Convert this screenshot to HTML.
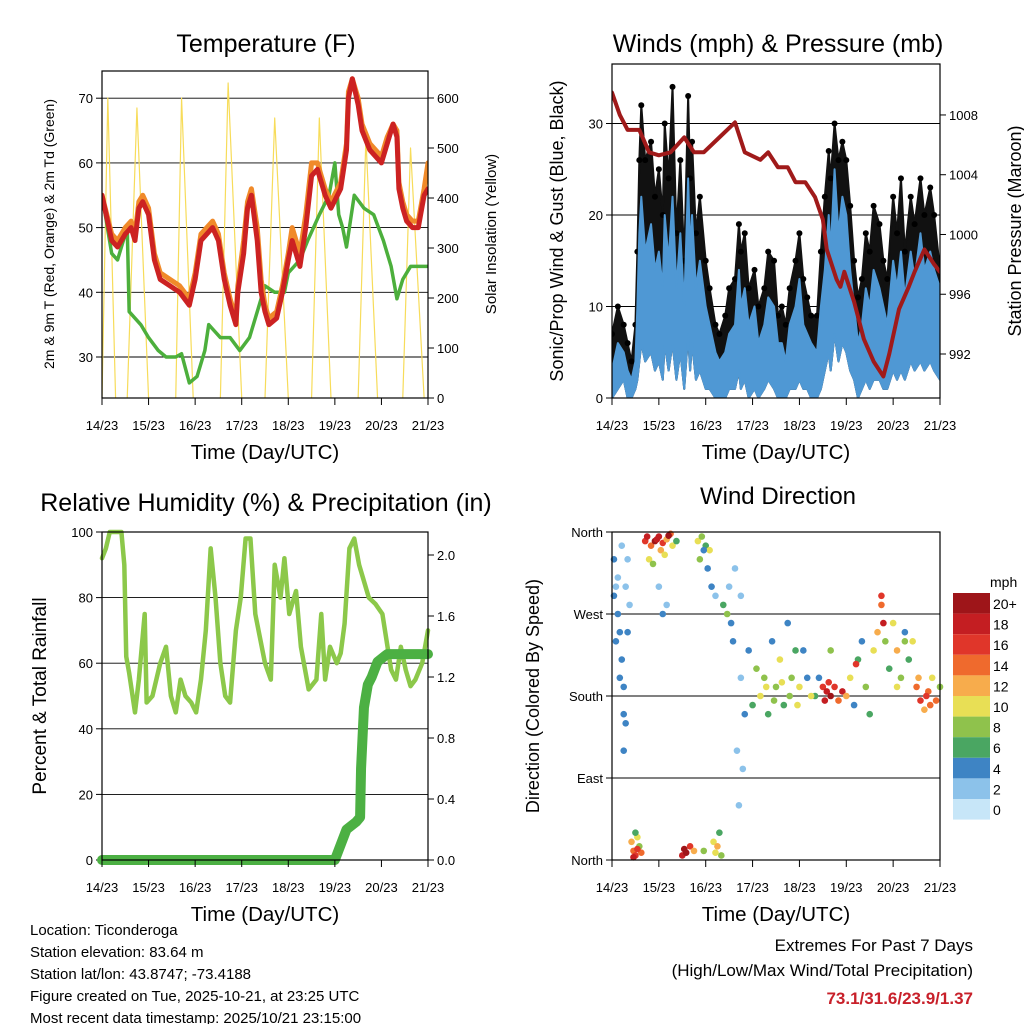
<!DOCTYPE html>
<html><head><meta charset="utf-8"><style>
body{margin:0;background:#fff;}
svg{display:block;font-family:"Liberation Sans",sans-serif;}
</style></head><body>
<svg id="c" width="1024" height="1024" viewBox="0 0 1024 1024"></svg>
<script>
// ---------- DATA (hours since 14/23, values) ----------
const dayLabels=["14/23","15/23","16/23","17/23","18/23","19/23","20/23","21/23"];
const tHours=[0,5,8,12,15,17,19,21,24,27,30,35,40,45,48,51,57,60,63,66,69,70,73,75,77,80,82,84,86,90,93,96,98,102,105,108,111,113,115,118,123,124,126,127,129,132,134,138,144,147,150,152,153,155,157,160,163,166,168];
const tempRed=[55,48,47,49,50,48,53,54,52,45,42,41,40,38,42,48,50,48,42,38,35,40,46,53,55,48,40,37,35,36,40,45,48,44,50,58,59,57,55,53,56,58,62,70,73,69,65,62,60,63,66,64,56,53,51,50,50,55,56];
const tempOrange=[55,49,48,50,51,49,54,55,53,46,43,42,41,39,43,49,51,49,43,39,36,41,48,54,56,50,42,38,36,37,41,46,50,46,52,60,60,58,56,54,57,59,63,71,73,70,66,63,61,64,66,65,57,54,52,51,51,56,60];
const dHours=[0,5,8,12,13,14,20,24,29,33,38,41,45,49,51,53,55,58,61,66,71,76,80,82,84,89,94,96,102,106,112,117,120,122,124,126,130,135,140,145,147,149,152,155,159,161,163,168];
const dewGreen=[55,46,45,49,50,37,35,33,31,30,30,30.5,26,27,29,31,35,34,33,33,31,33,37,39,41,40,40,43,45,48,52,55,60,52,50,47,55,53,52,48,46,44,39,42,44,44,44,44];
const solarDayStart=[0,13,38,61,84,108,132,155];
const solarPeak=[600,580,600,630,560,560,520,500];
const solarPeakHour=[3,18,41,65,89,112,136,159];
const solarDayEnd=[7,24,47,72,96,118,142,166];

const wHours=[0,3,6,8,10,12,13,14,15,17,20,22,24,26,27,29,31,33,35,37,39,40,41,43,45,48,50,53,55,58,60,63,65,66,68,70,73,75,78,80,83,85,87,89,91,94,96,98,100,102,105,107,109,111,112,114,116,118,120,122,124,126,128,130,132,134,137,139,141,144,146,148,150,153,155,158,160,163,165,168];
const windMax=[3,6,5,3,2,4,10,18,22,16,19,14,16,12,20,15,22,12,18,10,24,16,20,12,15,10,8,5,4,5,7,8,14,10,12,8,10,6,8,11,10,6,6,4,8,10,13,8,7,6,5,10,14,20,16,25,18,22,20,14,10,6,8,12,10,14,12,10,8,15,12,16,11,16,13,18,14,16,14,12];
const windMin=[0,1,2,0,0,1,2,4,6,4,5,3,4,2,6,3,6,2,5,1,7,3,6,2,3,1,1,0,0,0,1,1,3,1,2,0,1,0,1,2,1,0,0,0,1,1,2,1,1,0,0,1,3,5,3,7,4,6,5,3,2,0,1,2,1,2,2,1,1,3,2,3,2,4,3,4,3,4,3,2];
const gust=[7,10,8,6,4,8,16,26,32,26,28,22,25,20,30,24,34,18,26,15,33,24,28,18,22,15,12,8,7,9,12,13,19,16,18,12,14,10,12,16,15,9,10,8,12,15,18,13,11,9,9,16,22,27,24,30,26,28,26,21,15,11,13,18,16,21,19,15,13,22,18,24,16,22,19,24,20,23,20,14];
const pHours=[0,4,8,14,19,24,30,37,42,47,55,63,68,76,80,85,90,94,99,104,108,110,115,117,119,124,129,134,139,142,147,152,155,160,165,168];
const pressure=[1009.5,1008,1007,1007,1005.5,1005.3,1005.5,1006.5,1005.5,1005.5,1006.5,1007.5,1005.5,1005,1005.5,1004.5,1004.5,1003.5,1003.5,1002.5,1001,999,997,996.5,997.5,995.5,993,991.5,990.5,992,995,996.5,997.5,999,998,997.5];

const rhHours=[0,2,4,10,11.5,12.5,14,17,19,22,23,26,30,33,35.5,38,40.5,43,46,48.5,51,53.5,56,58.5,61,63.5,66,69,71.5,74,76.5,79,84,87,89,92,94,96.5,100,102.5,106.5,110.5,113,115,117.5,121,123,125,127.5,130,132.5,135,137.5,141,144.5,149,151.5,154,156.5,159,161.5,165,168];
const rh=[92,95,100,100,90,62,57,45,55,75,48,50,60,65,50,45,55,50,48,45,55,70,95,80,60,50,48,70,80,98,98,75,60,55,90,80,92,75,82,65,52,55,75,55,65,60,63,72,95,98,90,85,80,78,75,58,55,65,58,53,55,60,70];
const prHours=[0,60,120,123,126,131,133,133.5,135,137,139,142,147,154,168];
const precip=[0,0,0,0.1,0.2,0.25,0.28,0.6,1.0,1.15,1.2,1.3,1.35,1.35,1.35];

// wind direction scatter: [hour, direction deg, speed mph]
const dirPts=[[1,330,3],[2,300,2],[3,270,4],[4,250,3],[5,220,4],[6,190,4],[7,150,3],[6,120,4],[3,310,2],[5,345,2],[7,300,1],[8,330,2],[9,280,2],[8,250,3],[1,290,3],[2,240,4],[4,200,3],[6,160,4],[10,20,12],[11,10,14],[12,5,16],[13,25,10],[14,15,8],[12,30,6],[15,8,13],[11,3,18],[13,12,16],[17,350,16],[18,355,18],[20,345,14],[22,350,20],[24,355,18],[26,348,16],[28,352,12],[30,358,14],[31,345,10],[19,330,10],[21,325,8],[25,340,12],[27,335,9],[23,352,17],[29,356,19],[24,300,2],[26,270,3],[28,280,1],[33,350,6],[36,5,18],[38,8,20],[40,15,16],[42,10,12],[37,12,19],[44,350,10],[46,355,8],[48,345,6],[50,340,10],[49,320,4],[51,300,3],[53,290,2],[45,330,8],[47,340,4],[47,10,8],[52,20,10],[54,15,12],[56,5,8],[55,30,6],[53,8,10],[57,280,6],[59,270,8],[61,260,4],[60,300,2],[62,240,3],[64,120,1],[65,60,1],[66,200,2],[67,100,1],[68,160,3],[63,320,2],[66,290,1],[70,230,4],[72,170,6],[74,210,8],[76,180,10],[78,200,8],[80,160,6],[82,240,4],[84,190,8],[86,220,10],[88,170,6],[90,260,4],[92,200,8],[94,230,6],[96,190,10],[98,230,4],[100,200,3],[79,190,9],[83,175,7],[87,195,9],[91,180,8],[95,170,10],[104,180,6],[108,190,16],[110,185,18],[112,180,20],[114,190,16],[116,175,14],[118,185,18],[120,180,12],[109,175,18],[111,195,16],[122,200,10],[124,170,4],[126,220,6],[128,240,3],[130,190,8],[132,160,6],[134,230,10],[136,250,12],[138,280,14],[140,240,8],[142,210,6],[144,260,10],[146,230,12],[148,200,8],[150,250,4],[152,220,6],[154,240,10],[156,190,14],[158,175,16],[160,165,12],[162,185,14],[164,200,10],[166,175,14],[168,190,8],[138,290,16],[139,260,18],[102,180,10],[106,200,4],[112,230,8],[125,215,16],[146,190,10],[150,240,8],[157,200,12],[161,180,16],[163,170,13]];
const colorLabels=["20+","18","16","14","12","10","8","6","4","2","0"];
const colorFills=["#9e1519","#c41e22","#e0362a","#ef6a2d","#f7ac4c","#e8df55","#8fc24c","#4aa662","#3e84c4","#8cc2ea","#c7e6f8"];

// ---------- DRAW ----------
const svg=document.getElementById('c');
const NS="http://www.w3.org/2000/svg";
function mk(tag,at,parent){const e=document.createElementNS(NS,tag);for(const k in at)e.setAttribute(k,at[k]);(parent||svg).appendChild(e);return e;}
function txt(x,y,s,size,anchor,rot,parent){const t=mk('text',{x:x,y:y,'font-size':size,'text-anchor':anchor||'middle',fill:'#000'},parent);if(rot)t.setAttribute('transform','rotate(-90 '+x+' '+y+')');t.textContent=s;return t;}

function panel(name,x0,y0,x1,y1){
  const g=mk('g',{});
  
  
  const sx=h=>x0+h/168*(x1-x0);
  return {g,sx,x0,y0,x1,y1};
}
function frame(P){
  const r=mk('rect',{x:P.x0,y:P.y0,width:P.x1-P.x0,height:P.y1-P.y0,fill:'none',stroke:'#000','stroke-width':1.2},P.g);
  
  
  for(let d=0;d<=7;d++){
    const x=P.sx(d*24);
    mk('line',{x1:x,y1:P.y1,x2:x,y2:P.y1+7,stroke:'#000'},P.g);
    const t=txt(x,P.y1+32,dayLabels[d],13,'middle',false,P.g);
    
    
  }
  const xl=txt((P.x0+P.x1)/2,P.y1+61,"Time (Day/UTC)",20.5,'middle',false,P.g);
  
  
}
function grid(P,vals,sy,labels,side){
  vals.forEach((v,i)=>{
    const y=sy(v);
    if(side==='left'){mk('line',{x1:P.x0,y1:y,x2:P.x1,y2:y,stroke:'#000','stroke-width':0.9},P.g);
      mk('line',{x1:P.x0,y1:y,x2:P.x0-6,y2:y,stroke:'#000'},P.g);
      const t=txt(P.x0-9,y+5,labels[i],13,'end',false,P.g);}
    else {mk('line',{x1:P.x1,y1:y,x2:P.x1+6,y2:y,stroke:'#000'},P.g);
      const t=txt(P.x1+9,y+5,labels[i],13,'start',false,P.g);}
  });
}
function line(P,xs,ys,sx,sy,color,w,name){
  const p=mk('polyline',{points:xs.map((h,i)=>sx(h)+','+sy(ys[i])).join(' '),fill:'none',stroke:color,'stroke-width':w,'stroke-linejoin':'round','stroke-linecap':'round'},P.g);
  
  
  return p;
}
function band(g,xs,lo,hi,sx,sy,fill,name){
  const pts=xs.map((h,i)=>sx(h)+','+sy(hi[i])).concat(xs.slice().reverse().map((h,j)=>sx(h)+','+sy(lo[xs.length-1-j])));
  const a=mk('polygon',{points:pts.join(' '),fill:fill,stroke:fill,'stroke-width':2,'stroke-linejoin':'round'},g);
  
  
}

// Panel 1 temperature
{
  const P=panel('temperature-panel',102,71,428,398);
  const sy=v=>357-(v-30)*6.47;
  const ss=v=>398-v*0.5;
  txt(266,52,"Temperature (F)",25,'middle',false,P.g);
  grid(P,[30,40,50,60,70],sy,["30","40","50","60","70"],'left');
  grid(P,[0,100,200,300,400,500,600],ss,["0","100","200","300","400","500","600"],'right');
  const clip=mk('clipPath',{id:'c1'},P.g);mk('rect',{x:102,y:71,width:326,height:327},clip);
  const gg=mk('g',{'clip-path':'url(#c1)'},P.g);
  const Pc={g:gg};
  for(let i=0;i<solarPeak.length;i++){
    const hs=[solarDayStart[i],solarPeakHour[i],solarDayEnd[i]];
    const vs=[0,solarPeak[i],0];
    line(Pc,hs,vs,P.sx,ss,'#f7dc5a',1.2,'solar-insolation-day');
  }
  line(Pc,dHours,dewGreen,P.sx,sy,'#4caf3c',3.5,'dewpoint-line');
  line(Pc,tHours,tempOrange,P.sx,sy,'#f08a2a',5,'temp-9m-line');
  line(Pc,tHours,tempRed,P.sx,sy,'#cc2222',5,'temp-2m-line');
  frame(P);
  const yl=txt(54,234,"2m & 9m T (Red, Orange) & 2m Td (Green)",14,'middle',true,P.g);
  const yr=txt(496,234,"Solar Insolation (Yellow)",15,'middle',true,P.g);
}
// Panel 2 winds
{
  const P=panel('winds-panel',612,64,940,398);
  const sy=v=>398-v*9.15;
  const sp=v=>354-(v-992)*14.94;
  txt(778,52,"Winds (mph) & Pressure (mb)",25,'middle',false,P.g);
  grid(P,[0,10,20,30],sy,["0","10","20","30"],'left');
  grid(P,[992,996,1000,1004,1008],sp,["992","996","1000","1004","1008"],'right');
  const clip=mk('clipPath',{id:'c2'},P.g);mk('rect',{x:612,y:64,width:328,height:334},clip);
  const gg=mk('g',{'clip-path':'url(#c2)'},P.g);
  const Pc={g:gg};
  band(gg,wHours,windMin,gust,P.sx,sy,'#111','gust-band');
  gust.forEach((v,i)=>{const c=mk('circle',{cx:P.sx(wHours[i]),cy:sy(v),r:3,fill:'#000'},gg);});
  band(gg,wHours,windMin,windMax,P.sx,sy,'#4f98d4','wind-speed-band');
  line(Pc,pHours,pressure,P.sx,sp,'#a01a1a',4,'pressure-line');
  frame(P);
  txt(563,231,"Sonic/Prop Wind & Gust (Blue, Black)",18,'middle',true,P.g);
  txt(1021,231,"Station Pressure (Maroon)",18,'middle',true,P.g);
}
// Panel 3 RH
{
  const P=panel('humidity-panel',102,532,428,860);
  const sy=v=>860-v*3.28;
  const sr=v=>860-v*152.5;
  txt(266,511,"Relative Humidity (%) & Precipitation (in)",25,'middle',false,P.g);
  grid(P,[0,20,40,60,80,100],sy,["0","20","40","60","80","100"],'left');
  grid(P,[0,0.4,0.8,1.2,1.6,2.0],sr,["0.0","0.4","0.8","1.2","1.6","2.0"],'right');
  const Pc={g:P.g};
  line(Pc,rhHours,rh,P.sx,sy,'#8cc84a',4.5,'humidity-line');
  line(Pc,prHours,precip,P.sx,sr,'#4cb043',10,'precip-line');
  frame(P);
  txt(46,696,"Percent & Total Rainfall",19,'middle',true,P.g);
}
// Panel 4 wind direction
{
  const P=panel('wind-direction-panel',612,532,940,860);
  const sy=v=>860-v/360*328;
  txt(778,504,"Wind Direction",24,'middle',false,P.g);
  grid(P,[0,90,180,270,360],sy,["North","East","South","West","North"],'left');
  const colorOf=s=>colorFills[10-Math.min(10,Math.round(s/2))];
  dirPts.forEach(d=>{
    const c=mk('circle',{cx:P.sx(d[0]),cy:sy(d[1]),r:3.3,fill:colorOf(d[2])},P.g);
    
    
  });
  frame(P);
  txt(539,696,"Direction (Colored By Speed)",18,'middle',true,P.g);
  const lg=mk('g',{});
  
  
  txt(990,587,"mph",14,'start',false,lg);
  colorLabels.forEach((l,i)=>{
    const r=mk('rect',{x:953,y:593+i*20.6,width:37,height:20.6,fill:colorFills[i]},lg);
    
    
    txt(993,609+i*20.6,l,14,'start',false,lg);
  });
}
// footer text
const info=["Location: Ticonderoga","Station elevation: 83.64 m","Station lat/lon: 43.8747; -73.4188","Figure created on Tue, 2025-10-21, at 23:25 UTC","Most recent data timestamp: 2025/10/21 23:15:00"];
info.forEach((s,i)=>{const t=txt(30,935+i*22,s,15,'start');});
const e1=txt(973,951,"Extremes For Past 7 Days",17,'end');
const e2=txt(973,976,"(High/Low/Max Wind/Total Precipitation)",17,'end');
const e3=txt(973,1004,"73.1/31.6/23.9/1.37",17,'end');e3.setAttribute('fill','#c8202a');e3.setAttribute('font-weight','bold');
</script>
</body></html>
